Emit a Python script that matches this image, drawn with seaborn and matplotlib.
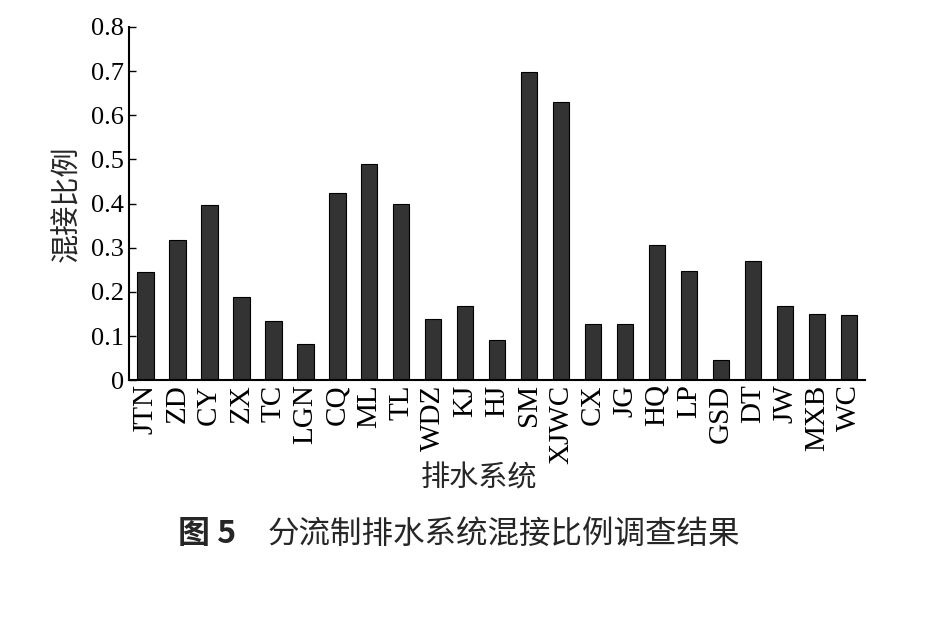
import numpy as np
import pandas as pd
import seaborn as sns
import matplotlib.pyplot as plt

# 排水系统及混接比例
systems = ['JTN', 'ZD', 'CY', 'ZX', 'TC', 'LGN', 'CQ', 'ML', 'TL', 'WDZ', 'KJ', 'HJ',
           'SM', 'XJWC', 'CX', 'JG', 'HQ', 'LP', 'GSD', 'DT', 'JW', 'MXB', 'WC']
ratios = [0.245, 0.318, 0.398, 0.189, 0.134, 0.082, 0.424, 0.490, 0.400, 0.139, 0.168, 0.091,
          0.699, 0.631, 0.127, 0.127, 0.306, 0.247, 0.046, 0.270, 0.168, 0.150, 0.147]
yticks = [0, 0.1, 0.2, 0.3, 0.4, 0.5, 0.6, 0.7, 0.8]
ytick_labels = ['0', '0.1', '0.2', '0.3', '0.4', '0.5', '0.6', '0.7', '0.8']

df = pd.DataFrame({'系统': systems, '比例': ratios})

sns.set_theme(style='ticks')
serif = ['Liberation Serif', 'DejaVu Serif']
cjk = ['Noto Sans CJK SC', 'DejaVu Sans']
plt.rcParams['font.family'] = serif

fig = plt.figure(figsize=(9.26, 6.19), dpi=100)
ax = fig.add_axes([0.1396, 0.3856, 0.7945, 0.5708])

sns.barplot(data=df, x='系统', y='比例', color='#333333', edgecolor='black',
            linewidth=0.8, width=0.52, saturation=1, ax=ax)

ax.set_xlim(-0.5, len(systems) - 0.5)
ax.set_ylim(0, 0.8)
ax.set_yticks(yticks)
ax.set_yticklabels(ytick_labels, fontsize=19, family=serif)
ax.set_xticks(range(len(systems)))
ax.set_xticklabels(systems, rotation=90, fontsize=21, family=serif)
ax.tick_params(axis='y', direction='in', length=5, width=1, pad=4, colors='black')
ax.tick_params(axis='x', direction='in', length=3, width=0.8, pad=3, colors='black')

sns.despine(ax=ax)
for s in ['left', 'bottom']:
    ax.spines[s].set_linewidth(1.5)
    ax.spines[s].set_color('black')

ax.set_ylabel('混接比例', fontsize=21, family=cjk, labelpad=6)
ax.set_xlabel('排水系统', fontsize=21, family=cjk, labelpad=0)
ax.xaxis.set_label_coords(0.475, -0.235)

fig.text(0.192, 0.138, '图 5', fontsize=23, family=cjk, fontweight='bold', va='center', ha='left')
fig.text(0.289, 0.138, '分流制排水系统混接比例调查结果', fontsize=22.7, family=cjk,
         fontweight='medium', va='center', ha='left')

fig.savefig('out.png', dpi=100)
